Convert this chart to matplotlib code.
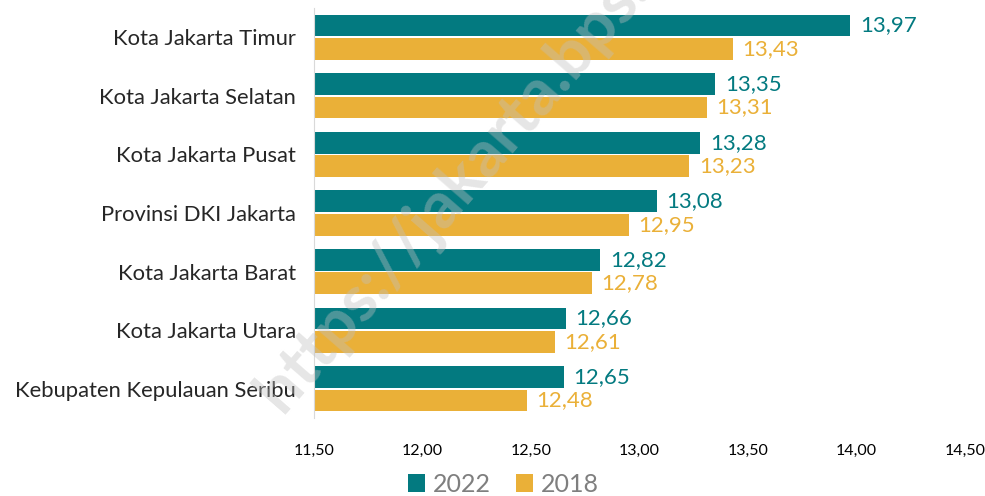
import numpy as np
import matplotlib.pyplot as plt

plt.rcParams['font.family'] = ['Lato', 'DejaVu Sans']

regions = ['Kota Jakarta Timur', 'Kota Jakarta Selatan', 'Kota Jakarta Pusat',
           'Provinsi DKI Jakarta', 'Kota Jakarta Barat', 'Kota Jakarta Utara',
           'Kebupaten Kepulauan Seribu']
val_2022 = [13.97, 13.35, 13.28, 13.08, 12.82, 12.66, 12.65]
val_2018 = [13.43, 13.31, 13.23, 12.95, 12.78, 12.61, 12.48]
xticks = [11.5, 12.0, 12.5, 13.0, 13.5, 14.0, 14.5]

teal = '#037a80'
gold = '#eab038'

fig = plt.figure(figsize=(9.85, 4.96), dpi=100)
ax = fig.add_axes([314 / 985, 1 - 418 / 496, (965 - 314) / 985, 410 / 496])

y = np.arange(len(regions))
h = 0.37
base = 11.5
b1 = ax.barh(y - h / 2 - 0.015, np.array(val_2022) - base, left=base, height=h,
             color=teal, label='2022')
b2 = ax.barh(y + h / 2 + 0.015, np.array(val_2018) - base, left=base, height=h,
             color=gold, label='2018')

for bars, vals, c in [(b1, val_2022, teal), (b2, val_2018, gold)]:
    for b, v in zip(bars, vals):
        ax.text(v + 0.045, b.get_y() + b.get_height() / 2, f'{v:.2f}'.replace('.', ','),
                va='center', ha='left', color=c, fontsize=16)

ax.set_xlim(11.5, 14.5)
ax.set_ylim(len(regions) - 0.5, -0.5)
ax.set_yticks(y)
ax.set_yticklabels(regions, fontsize=15.8, color='#262626')
ax.set_xticks(xticks)
ax.set_xticklabels([f'{t:.2f}'.replace('.', ',') for t in xticks], fontsize=11.5)
ax.tick_params(axis='both', length=0)
ax.tick_params(axis='x', pad=19)
ax.tick_params(axis='y', pad=13)
for s in ['top', 'right', 'bottom']:
    ax.spines[s].set_visible(False)
ax.spines['left'].set_color('#d9d9d9')

leg = fig.legend(handles=[b1, b2], loc='center', bbox_to_anchor=(503 / 985, 1 - 484 / 496),
                 ncol=2, frameon=False, fontsize=18, handlelength=0.7, handleheight=0.7,
                 handletextpad=0.3, columnspacing=1.0, borderpad=0.2)
for t in leg.get_texts():
    t.set_color('#7f7f7f')

# watermark
fig.text(499 / 985, 1 - 138 / 496, 'https://jakarta.bps.go.id', rotation=49, fontsize=47,
         fontweight='bold', color='#c0c0c0', alpha=0.4, ha='center', va='center',
         zorder=10)

fig.savefig('out.png', dpi=100)
